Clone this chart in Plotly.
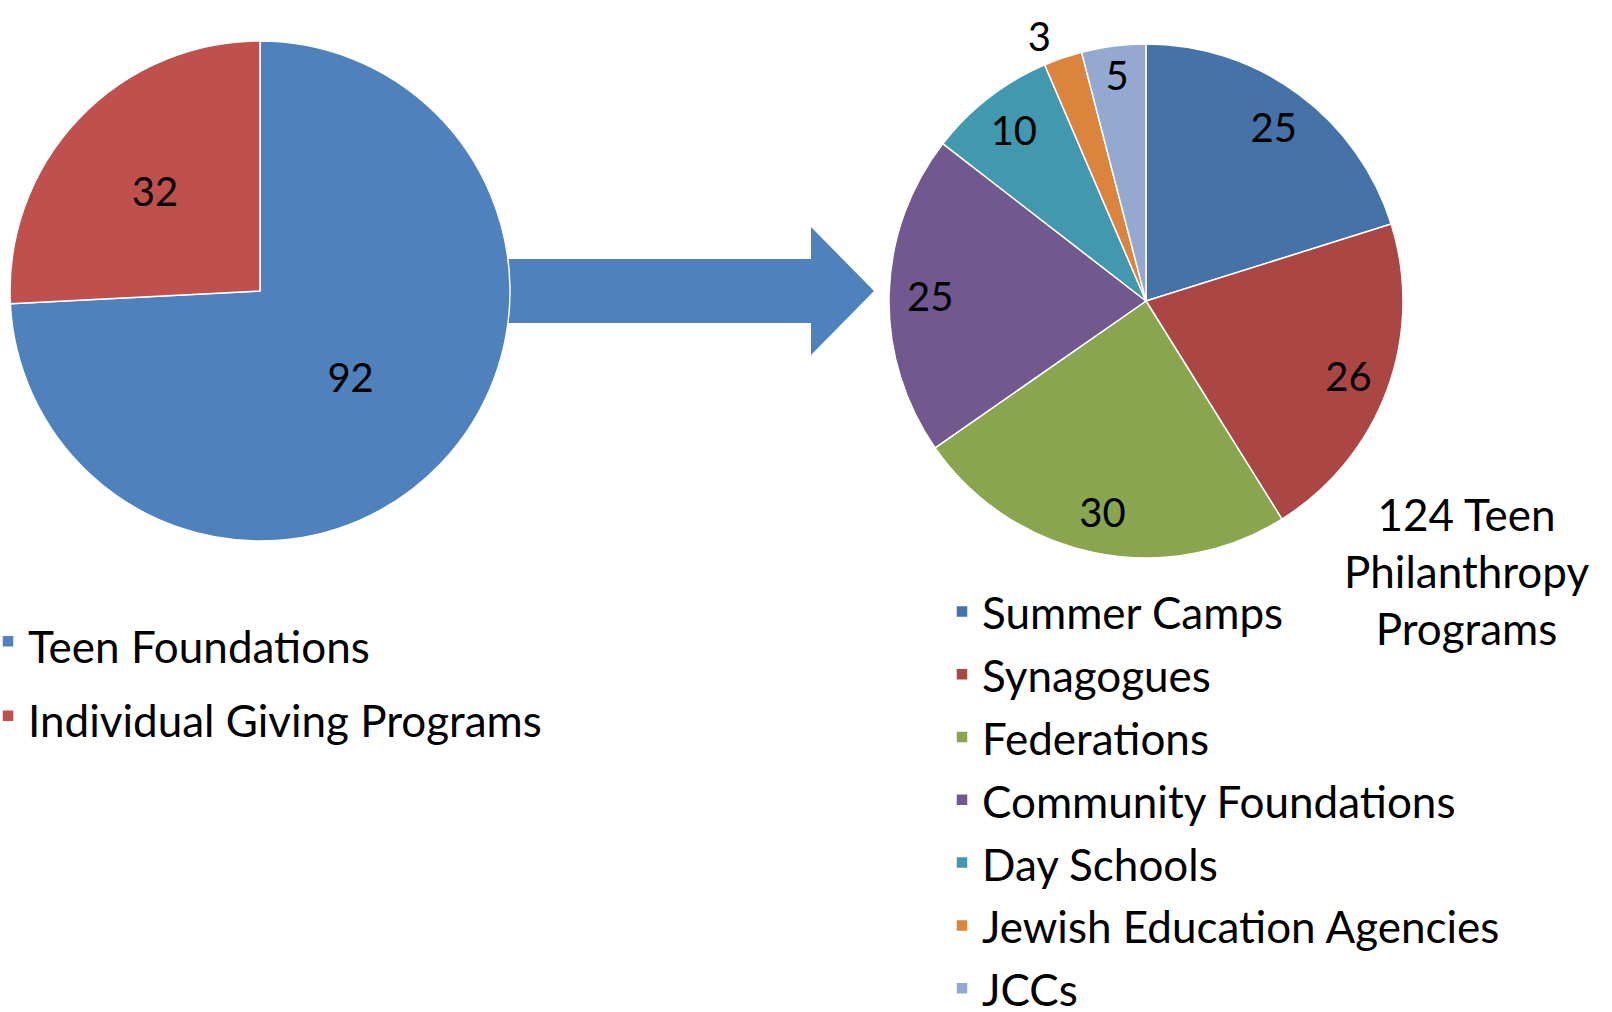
import plotly.graph_objects as go

W, H = 1612, 1012

# ---- data ----
left_labels = ["Teen Foundations", "Individual Giving Programs"]
left_values = [92, 32]
left_colors = ["#4F81BD", "#C0504D"]

right_labels = ["Summer Camps", "Synagogues", "Federations", "Community Foundations",
                "Day Schools", "Jewish Education Agencies", "JCCs"]
right_values = [25, 26, 30, 25, 10, 3, 5]
right_colors = ["#4572A7", "#AA4643", "#89A54E", "#71588F", "#4198AF", "#DB843D", "#93A9CF"]
right_textpos = ["inside", "inside", "inside", "inside", "inside", "outside", "inside"]

total_note = "124 Teen<br>Philanthropy<br>Programs"

FONT = "Lato, 'Open Sans', sans-serif"
LABEL_SIZE = 40
LEGEND_TEXT = 44


def px(x):
    return x / W


def py(y):
    return 1 - y / H


def legend_text(labels, size):
    return [f"<span style='font-size:{size}px'>{t}</span>" for t in labels]


fig = go.Figure()

# left pie
fig.add_trace(go.Pie(
    labels=legend_text(left_labels, LEGEND_TEXT), values=left_values,
    sort=False, direction="clockwise", rotation=0,
    marker=dict(colors=left_colors, line=dict(color="white", width=1.5)),
    textinfo="value", textposition="inside", insidetextorientation="auto",
    textfont=dict(family=FONT, size=LABEL_SIZE, color="black"),
    domain=dict(x=[px(10), px(510)], y=[py(541), py(41)]),
    legend="legend", hoverinfo="label+value",
))

RIGHT_DOMAIN = dict(x=[px(889), px(1403)], y=[py(558), py(44)])

# right pie (slices)
fig.add_trace(go.Pie(
    labels=legend_text(right_labels, LEGEND_TEXT), values=right_values,
    sort=False, direction="clockwise", rotation=0,
    marker=dict(colors=right_colors, line=dict(color="white", width=1.5)),
    textinfo="none",
    domain=RIGHT_DOMAIN,
    legend="legend2", hoverinfo="label+value",
))

# right pie value labels (transparent ring so labels sit near the rim)
fig.add_trace(go.Pie(
    labels=legend_text(right_labels, LEGEND_TEXT), values=right_values,
    sort=False, direction="clockwise", rotation=0, hole=0.68,
    marker=dict(colors=["rgba(0,0,0,0)"] * len(right_values), line=dict(width=0)),
    textinfo="value", textposition=right_textpos, insidetextorientation="auto",
    textfont=dict(family=FONT, size=LABEL_SIZE, color="black"),
    domain=RIGHT_DOMAIN,
    showlegend=False, hoverinfo="skip",
))

# arrow between the pies
ax0, ax1, ax2 = 470, 811, 874
ay = 291
shaft, head = 32, 64
arrow_path = (f"M{px(ax0)},{py(ay-shaft)} L{px(ax1)},{py(ay-shaft)} L{px(ax1)},{py(ay-head)} "
              f"L{px(ax2)},{py(ay)} L{px(ax1)},{py(ay+head)} L{px(ax1)},{py(ay+shaft)} "
              f"L{px(ax0)},{py(ay+shaft)} Z")
fig.add_shape(type="path", path=arrow_path, xref="paper", yref="paper",
              fillcolor="#4F81BD", line=dict(width=0), layer="below")

fig.add_annotation(text=total_note, x=px(1466), y=py(571), xref="paper", yref="paper",
                   xanchor="center", yanchor="middle", showarrow=False, align="center",
                   font=dict(family=FONT, size=44, color="black"))

fig.update_layout(
    width=W, height=H,
    margin=dict(l=0, r=0, t=0, b=0, autoexpand=False),
    paper_bgcolor="white", plot_bgcolor="white",
    font=dict(family=FONT, color="black"),
    uniformtext=dict(minsize=LABEL_SIZE, mode="show"),
    legend=dict(x=px(-12), y=py(599), xanchor="left", yanchor="top",
                font=dict(family=FONT, size=55, color="black"),
                bgcolor="rgba(0,0,0,0)", borderwidth=0, traceorder="normal"),
    legend2=dict(x=px(942), y=py(575), xanchor="left", yanchor="top",
                 font=dict(family=FONT, size=46, color="black"),
                 bgcolor="rgba(0,0,0,0)", borderwidth=0, traceorder="normal"),
)

fig.write_html("out.html")
